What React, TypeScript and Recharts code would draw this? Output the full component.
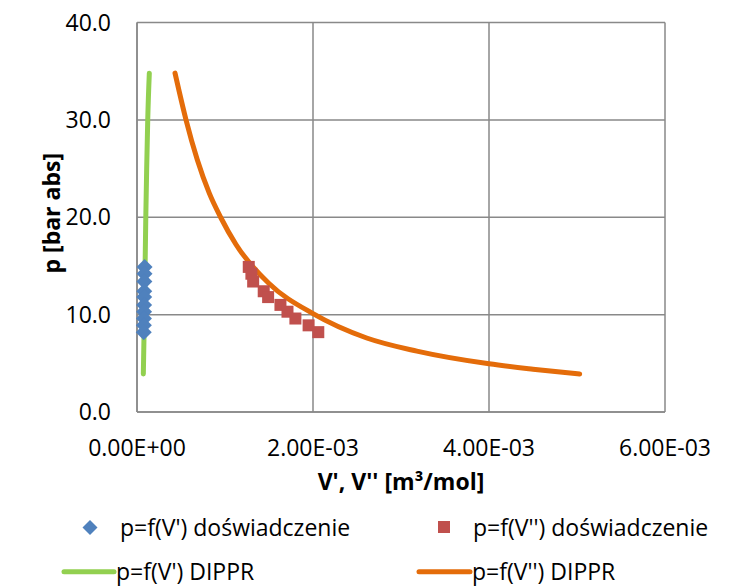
import {
  ComposedChart,
  Line,
  Scatter,
  XAxis,
  YAxis,
  CartesianGrid,
  Legend,
} from "recharts";

// pressures of the measured points [bar abs]
const measuredP = [14.9, 14.2, 13.4, 12.4, 11.8, 11.0, 10.3, 9.6, 8.9, 8.2];
// liquid molar volume V' [m3/mol]
const liquidV = [8.6e-5, 8.5e-5, 8.4e-5, 8.25e-5, 8.2e-5, 8.1e-5, 8.0e-5, 7.9e-5, 7.8e-5, 7.7e-5];
// vapour molar volume V'' [m3/mol]
const vapourV = [1.27e-3, 1.3e-3, 1.32e-3, 1.44e-3, 1.49e-3, 1.63e-3, 1.71e-3, 1.8e-3, 1.95e-3, 2.06e-3];

// DIPPR correlation, liquid branch
const dipprLiqV = [7.2e-5, 8.4e-5, 9.2e-5, 1.0e-4, 1.1e-4, 1.22e-4, 1.4e-4];
const dipprLiqP = [3.9, 10, 15, 20, 25, 30, 34.8];

// DIPPR correlation, vapour branch
const dipprVapV = [
  4.32e-4, 4.8e-4, 5.57e-4, 6.85e-4, 8.2e-4, 9.5e-4, 1.125e-3, 1.5e-3, 2.0e-3,
  2.61e-3, 3.18e-3, 4.0e-3, 4.5e-3, 5.03e-3,
];
const dipprVapP = [
  34.8, 32.9, 30.0, 25.9, 22.5, 20.0, 17.2, 13.2, 10.1, 7.6, 6.25, 4.95, 4.4,
  3.9,
];

const xTicks = [0, 0.002, 0.004, 0.006];
const yTicks = [0, 10, 20, 30, 40];

const zip = (vs: number[], ps: number[]) => vs.map((v, i) => ({ v, p: ps[i] }));

const liqPoints = zip(liquidV, measuredP);
const vapPoints = zip(vapourV, measuredP);
const liqCurve = zip(dipprLiqV, dipprLiqP);
const vapCurve = zip(dipprVapV, dipprVapP);

const FONT = "'Open Sans', sans-serif";
const GRID = "#898989";
const BLUE = "#4F81BD";
const RED = "#C0504D";
const GREEN = "#92D050";
const ORANGE = "#E46C0A";

const sci = (v: number) => {
  const [m, e] = v.toExponential(2).split("e");
  const n = parseInt(e, 10);
  return `${m}E${n < 0 ? "-" : "+"}${String(Math.abs(n)).padStart(2, "0")}`;
};

const Diamond = (props: any) => {
  const { cx, cy } = props;
  const r = 8;
  return (
    <polygon
      points={`${cx},${cy - r} ${cx + r},${cy} ${cx},${cy + r} ${cx - r},${cy}`}
      fill={BLUE}
    />
  );
};

const Square = (props: any) => {
  const { cx, cy } = props;
  return <rect x={cx - 6} y={cy - 6} width={12} height={12} fill={RED} />;
};

// legend box sits at top 500 of the chart
const LegendBox = () => (
  <svg width={745} height={88} style={{ overflow: "visible", display: "block" }}>
    <g fontFamily={FONT} fontSize={23} fill="#000">
      <polygon points="90,20 97.5,27.5 90,35 82.5,27.5" fill={BLUE} />
      <text x={120} y={27.5} dy="0.35em">
        p=f(V') doświadczenie
      </text>
      <Square cx={444} cy={27} />
      <text x={473} y={27.5} dy="0.35em">
        p=f(V'') doświadczenie
      </text>
      <line x1={64} x2={114} y1={71.7} y2={71.7} stroke={GREEN} strokeWidth={5} strokeLinecap="round" />
      <text x={116} y={71.7} dy="0.35em">
        p=f(V') DIPPR
      </text>
      <line x1={419} x2={470} y1={71.7} y2={71.7} stroke={ORANGE} strokeWidth={5} strokeLinecap="round" />
      <text x={472} y={71.7} dy="0.35em">
        p=f(V'') DIPPR
      </text>
    </g>
  </svg>
);

export default function App() {
  return (
    <div style={{ fontFamily: FONT, margin: "-8px -8px 0 -8px", width: 745, height: 588 }}>
      <ComposedChart
        width={745}
        height={588}
        margin={{ top: 22.5, right: 80, bottom: 0, left: 0 }}
      >
        <CartesianGrid stroke={GRID} strokeWidth={1.5} horizontalValues={yTicks} verticalValues={xTicks} />
        <XAxis
          type="number"
          dataKey="v"
          domain={[0, 0.006]}
          ticks={xTicks}
          tickFormatter={sci}
          height={176}
          axisLine={{ stroke: GRID, strokeWidth: 1.5 }}
          tickLine={false}
          tickMargin={22}
          tick={{ fill: "#000", fontSize: 23, fontFamily: FONT }}
          label={(props: any) => {
            const vb = props.viewBox;
            return (
              <text
                x={vb.x + vb.width / 2}
                y={482}
                dy="0.35em"
                textAnchor="middle"
                fontFamily={FONT}
                fontSize={23}
                fontWeight="bold"
                fill="#000"
              >
                V', V'' [m³/mol]
              </text>
            );
          }}
        />
        <YAxis
          type="number"
          domain={[0, 40]}
          ticks={yTicks}
          tickFormatter={(v: number) => v.toFixed(1)}
          width={137}
          axisLine={{ stroke: GRID, strokeWidth: 1.5 }}
          tickLine={false}
          tickMargin={20}
          tick={{ fill: "#000", fontSize: 23, fontFamily: FONT }}
          label={(props: any) => {
            const vb = props.viewBox;
            const cy = vb.y + vb.height / 2 - 4;
            return (
              <text
                x={52}
                y={cy}
                dy="0.35em"
                textAnchor="middle"
                transform={`rotate(-90 52 ${cy})`}
                fontFamily={FONT}
                fontSize={23}
                fontWeight="bold"
                fill="#000"
              >
                p [bar abs]
              </text>
            );
          }}
        />
        <Line
          data={liqCurve}
          dataKey="p"
          type="monotone"
          stroke={GREEN}
          strokeWidth={5}
          strokeLinecap="round"
          dot={false}
          activeDot={false}
          name="p=f(V') DIPPR"
          isAnimationActive={false}
        />
        <Line
          data={vapCurve}
          dataKey="p"
          type="monotone"
          stroke={ORANGE}
          strokeWidth={5}
          strokeLinecap="round"
          dot={false}
          activeDot={false}
          name="p=f(V'') DIPPR"
          isAnimationActive={false}
        />
        <Scatter
          data={liqPoints}
          dataKey="p"
          shape={Diamond}
          name="p=f(V') doświadczenie"
          isAnimationActive={false}
        />
        <Scatter
          data={vapPoints}
          dataKey="p"
          shape={Square}
          name="p=f(V'') doświadczenie"
          isAnimationActive={false}
        />
        <Legend
          layout="horizontal"
          verticalAlign="middle"
          align="center"
          wrapperStyle={{ top: 500, left: 0, width: 745, height: 88 }}
          content={LegendBox}
        />
      </ComposedChart>
    </div>
  );
}
